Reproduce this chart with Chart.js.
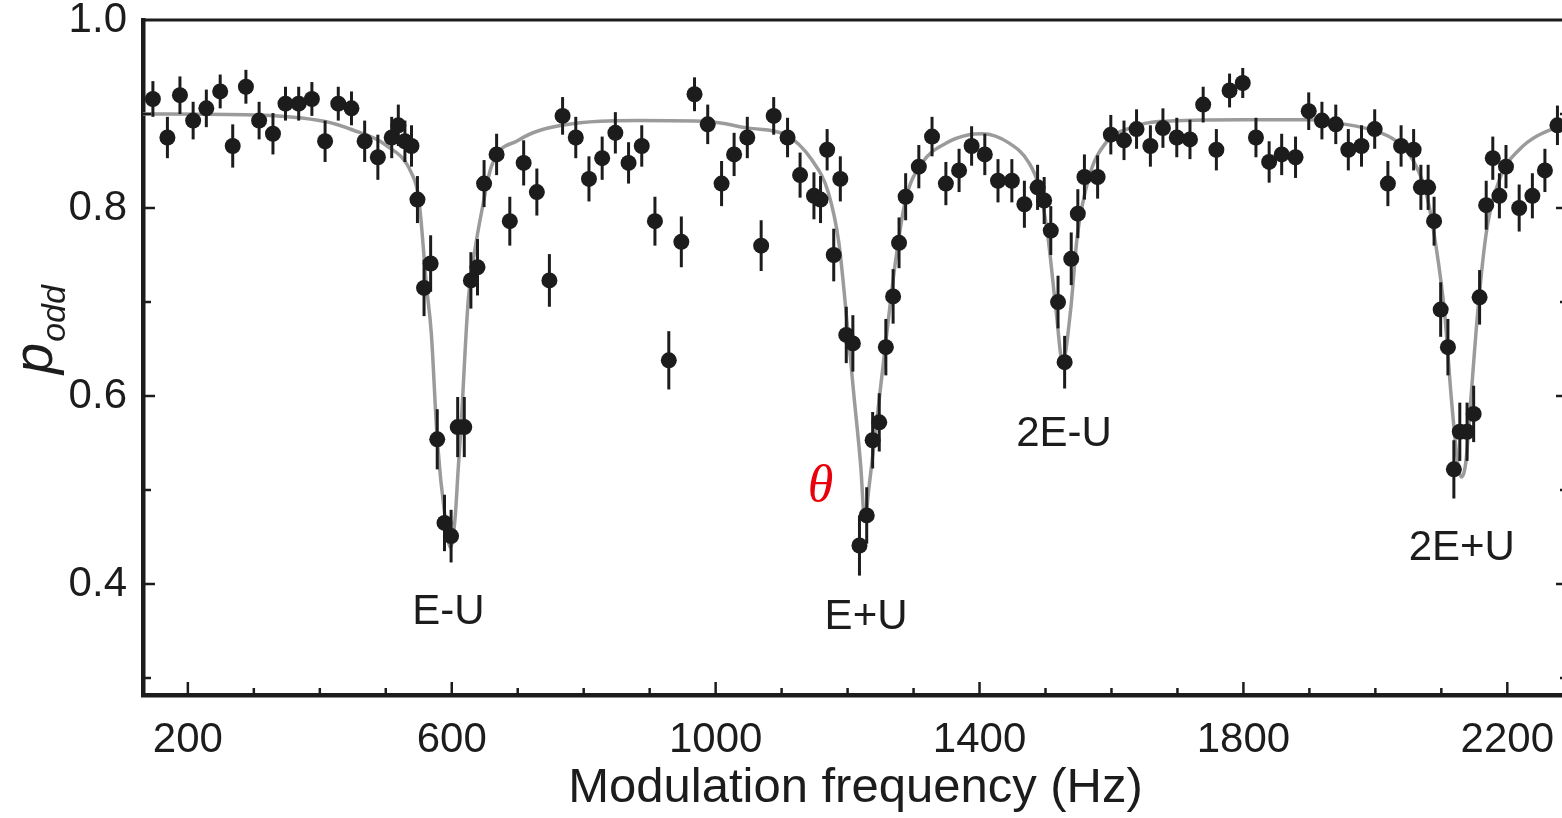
<!DOCTYPE html>
<html>
<head>
<meta charset="utf-8">
<script src="https://cdn.jsdelivr.net/npm/chart.js@4/dist/chart.umd.min.js"></script>
<style>
  html, body { margin: 0; padding: 0; overflow: hidden; background: #fff; }
  #wrap { width: 1580px; height: 818px; }
</style>
</head>
<body>
<div id="wrap"><canvas id="spectrum" width="1580" height="818"></canvas></div>
<script>
// Measured points (modulation frequency in Hz, p_odd, error bar half-height)
const freq = [
    147, 169, 188, 208, 228, 249, 268, 288, 308, 329,
    348, 368, 388, 408, 428, 448, 468, 488, 509, 519,
    529, 539, 548, 558, 568, 578, 589, 599, 609, 619,
    629, 639, 649, 668, 688, 709, 729, 748, 768, 788,
    808, 828, 848, 868, 888, 908, 929, 948, 968, 988,
    1009, 1028, 1048, 1069, 1088, 1109, 1128, 1149, 1159, 1169,
    1179, 1189, 1198, 1208, 1218, 1229, 1238, 1248, 1258, 1269,
    1278, 1288, 1308, 1328, 1349, 1369, 1388, 1408, 1428, 1449,
    1468, 1488, 1498, 1508, 1519, 1529, 1539, 1549, 1559, 1579,
    1599, 1619, 1638, 1659, 1678, 1699, 1719, 1739, 1759, 1779,
    1799, 1819, 1839, 1858, 1879, 1899, 1919, 1940, 1959, 1979,
    1999, 2019, 2039, 2058, 2069, 2080, 2089, 2099, 2110, 2119,
    2128, 2139, 2149, 2158, 2168, 2178, 2188, 2198, 2218, 2238,
    2257, 2276
];
const podd = [
    0.916, 0.875, 0.920, 0.893, 0.906, 0.924, 0.866, 0.929, 0.893, 0.879,
    0.911, 0.911, 0.916, 0.871, 0.911, 0.906, 0.871, 0.854, 0.875, 0.888,
    0.871, 0.866, 0.809, 0.715, 0.741, 0.554, 0.465, 0.451, 0.567, 0.567,
    0.723, 0.737, 0.826, 0.857, 0.786, 0.848, 0.817, 0.723, 0.898, 0.875,
    0.831, 0.853, 0.880, 0.848, 0.866, 0.786, 0.638, 0.764, 0.921, 0.889,
    0.826, 0.857, 0.875, 0.760, 0.898, 0.875, 0.835, 0.813, 0.809, 0.862,
    0.750, 0.831, 0.665, 0.656, 0.441, 0.473, 0.553, 0.572, 0.652, 0.706,
    0.763, 0.812, 0.844, 0.876, 0.826, 0.840, 0.866, 0.857, 0.829, 0.829,
    0.804, 0.822, 0.808, 0.776, 0.700, 0.636, 0.746, 0.794, 0.833, 0.833,
    0.878, 0.872, 0.884, 0.866, 0.885, 0.875, 0.873, 0.910, 0.862, 0.925,
    0.933, 0.875, 0.849, 0.857, 0.854, 0.903, 0.893, 0.889, 0.862, 0.866,
    0.884, 0.826, 0.866, 0.862, 0.822, 0.822, 0.786, 0.692, 0.652, 0.522,
    0.562, 0.562, 0.581, 0.705, 0.803, 0.853, 0.813, 0.844, 0.800, 0.813,
    0.840, 0.888
];
const err = [
    0.019, 0.022, 0.020, 0.020, 0.020, 0.018, 0.023, 0.018, 0.020, 0.022,
    0.018, 0.018, 0.018, 0.022, 0.018, 0.018, 0.022, 0.024, 0.022, 0.022,
    0.022, 0.022, 0.025, 0.030, 0.030, 0.032, 0.030, 0.028, 0.032, 0.032,
    0.030, 0.030, 0.025, 0.022, 0.026, 0.024, 0.025, 0.028, 0.020, 0.022,
    0.024, 0.023, 0.022, 0.022, 0.022, 0.026, 0.031, 0.027, 0.018, 0.021,
    0.024, 0.023, 0.022, 0.027, 0.020, 0.021, 0.024, 0.025, 0.025, 0.022,
    0.028, 0.024, 0.030, 0.030, 0.032, 0.030, 0.030, 0.031, 0.030, 0.029,
    0.027, 0.025, 0.023, 0.021, 0.023, 0.023, 0.021, 0.022, 0.023, 0.023,
    0.025, 0.024, 0.025, 0.026, 0.028, 0.028, 0.028, 0.026, 0.024, 0.023,
    0.021, 0.021, 0.021, 0.022, 0.021, 0.021, 0.021, 0.019, 0.022, 0.018,
    0.016, 0.021, 0.022, 0.022, 0.022, 0.020, 0.020, 0.021, 0.022, 0.022,
    0.021, 0.024, 0.022, 0.022, 0.024, 0.024, 0.026, 0.029, 0.030, 0.031,
    0.031, 0.031, 0.030, 0.029, 0.026, 0.023, 0.024, 0.023, 0.025, 0.024,
    0.023, 0.021
];

// Fit curve
const fitFreq = [
    130, 300, 408, 450, 500, 539, 550, 562, 569, 578,
    590, 598, 605, 610, 614, 625, 635, 645, 660, 701,
    767, 883, 988, 1050, 1106, 1146, 1171, 1187, 1199, 1209,
    1220, 1226, 1232, 1242, 1257, 1273, 1288, 1313, 1349, 1384,
    1404, 1445, 1475, 1490, 1503, 1516, 1526, 1538, 1548, 1566,
    1591, 1632, 1672, 1800, 1900, 1946, 2000, 2030, 2057, 2077,
    2092, 2105, 2115, 2125, 2130, 2137, 2145, 2155, 2168, 2188,
    2218, 2276, 2292
];
const fitVal = [
    0.900, 0.899, 0.892, 0.883, 0.867, 0.837, 0.810, 0.715, 0.667, 0.554,
    0.470, 0.439, 0.470, 0.525, 0.567, 0.702, 0.755, 0.795, 0.844, 0.872,
    0.888, 0.893, 0.892, 0.885, 0.878, 0.851, 0.816, 0.762, 0.680, 0.605,
    0.525, 0.467, 0.500, 0.560, 0.652, 0.745, 0.809, 0.848, 0.869, 0.878,
    0.879, 0.869, 0.848, 0.823, 0.773, 0.691, 0.636, 0.691, 0.769, 0.833,
    0.869, 0.886, 0.892, 0.894, 0.894, 0.890, 0.882, 0.872, 0.851, 0.816,
    0.759, 0.688, 0.599, 0.528, 0.514, 0.529, 0.599, 0.688, 0.773, 0.830,
    0.862, 0.886, 0.888
];

// Peak labels [text, frequency, p_odd]
const peakLabels = [
    ['E-U', 595, 0.370],
    ['E+U', 1228, 0.365],
    ['2E-U', 1528, 0.559],
    ['2E+U', 2131, 0.438]
];

const INK = '#1c1c1c';
Chart.defaults.font.family = "'Liberation Sans', Arial, Helvetica, sans-serif";
Chart.defaults.color = INK;

// error bars, drawn under the dots but over the fit
const errorBars = {
    id: 'errorBars',
    beforeDatasetDraw(chart, args) {
        if (args.index !== 0) return;
        const { ctx, scales: { x, y } } = chart;
        ctx.save();
        ctx.strokeStyle = INK;
        ctx.lineWidth = 3;
        freq.forEach(function(f, i) {
            const px = x.getPixelForValue(f);
            ctx.beginPath();
            ctx.moveTo(px, y.getPixelForValue(podd[i] - err[i]));
            ctx.lineTo(px, y.getPixelForValue(podd[i] + err[i]));
            ctx.stroke();
        });
        ctx.restore();
    }
};

// frame, inward ticks and text annotations
const decorations = {
    id: 'decorations',
    afterDraw(chart) {
        const { ctx, chartArea: a, scales: { x, y } } = chart;
        ctx.save();
        ctx.strokeStyle = INK;
        ctx.lineCap = 'butt';

        // top and right edges of the box
        ctx.lineWidth = 3;
        ctx.beginPath();
        ctx.moveTo(a.left, a.top);
        ctx.lineTo(a.right, a.top);
        ctx.lineTo(a.right, a.bottom);
        ctx.stroke();

        // x ticks every 100 Hz, longer at the labelled ones
        ctx.lineWidth = 2.5;
        for (let f = 200; f <= 2200; f += 100) {
            const px = x.getPixelForValue(f);
            const len = (f - 200) % 400 === 0 ? 13 : 7;
            ctx.beginPath();
            ctx.moveTo(px, a.bottom);
            ctx.lineTo(px, a.bottom - len);
            ctx.stroke();
        }
        // y ticks every 0.1 on both sides
        for (let k = 3; k <= 9; k++) {
            const py = y.getPixelForValue(k / 10);
            const len = k % 2 === 0 ? 12 : 8;
            ctx.beginPath();
            ctx.moveTo(a.left, py);
            ctx.lineTo(a.left + len, py);
            ctx.moveTo(a.right, py);
            ctx.lineTo(a.right - len, py);
            ctx.stroke();
        }

        // peak labels
        ctx.fillStyle = INK;
        ctx.font = "42px 'Liberation Sans', Arial, sans-serif";
        ctx.textAlign = 'center';
        ctx.textBaseline = 'middle';
        peakLabels.forEach(function(p) {
            ctx.fillText(p[0], x.getPixelForValue(p[1]), y.getPixelForValue(p[2]));
        });

        // red theta
        ctx.fillStyle = '#e8000b';
        ctx.font = "italic 52px 'Liberation Serif', 'Times New Roman', serif";
        ctx.fillText('θ', x.getPixelForValue(1159), y.getPixelForValue(0.503));

        // y axis title: p with subscript "odd"
        ctx.fillStyle = INK;
        ctx.translate(52, 374);
        ctx.rotate(-Math.PI / 2);
        ctx.textAlign = 'left';
        ctx.textBaseline = 'alphabetic';
        ctx.font = "italic 56px 'Liberation Sans', Arial, sans-serif";
        ctx.fillText('p', 0, 0);
        const pw = ctx.measureText('p').width;
        ctx.font = "italic 34px 'Liberation Sans', Arial, sans-serif";
        ctx.fillText('odd', pw + 1, 13);
        ctx.restore();
    }
};

const ctx = document.getElementById('spectrum');
new Chart(ctx, {
    type: 'line',
    data: {
        datasets: [{
            label: 'data',
            data: freq.map((f, i) => ({ x: f, y: podd[i] })),
            showLine: false,
            pointRadius: 8,
            pointBackgroundColor: INK,
            pointBorderWidth: 0
        }, {
            label: 'fit',
            data: fitFreq.map((f, i) => ({ x: f, y: fitVal[i] })),
            borderColor: '#9b9b9b',
            borderWidth: 3.5,
            pointRadius: 0,
            cubicInterpolationMode: 'monotone'
        }]
    },
    options: {
        responsive: false,
        animation: false,
        layout: { padding: { top: 20, right: 12, left: 0, bottom: 0 } },
        plugins: {
            legend: { display: false },
            tooltip: { enabled: false }
        },
        scales: {
            x: {
                type: 'linear',
                min: 132,
                max: 2292,
                grid: { display: false },
                border: { display: true, color: INK, width: 4.5 },
                ticks: {
                    stepSize: 100,
                    includeBounds: false,
                    autoSkip: false,
                    maxRotation: 0,
                    padding: 12,
                    font: { size: 42 },
                    callback: function(value) {
                        return (value - 200) % 400 === 0 ? String(value) : '';
                    }
                },
                title: {
                    display: true,
                    text: 'Modulation frequency (Hz)',
                    font: { size: 49 },
                    padding: { top: 0, bottom: 0 }
                },
                afterFit: function(scale) {
                    scale.height = 123;
                    scale.paddingLeft = 0;
                    scale.paddingRight = 0;
                }
            },
            y: {
                min: 0.282,
                max: 1.0,
                grid: { display: false },
                border: { display: true, color: INK, width: 4.5 },
                ticks: {
                    stepSize: 0.1,
                    includeBounds: false,
                    autoSkip: false,
                    padding: 8,
                    font: { size: 42 },
                    callback: function(value) {
                        const k = Math.round(value * 10);
                        if (Math.abs(value * 10 - k) > 1e-6) return '';
                        return k % 2 === 0 && k >= 4 ? (k / 10).toFixed(1) : '';
                    }
                },
                afterFit: function(scale) {
                    scale.width = 143;
                    scale.paddingTop = 0;
                    scale.paddingBottom = 0;
                }
            }
        }
    },
    plugins: [errorBars, decorations]
});
</script>
</body>
</html>
